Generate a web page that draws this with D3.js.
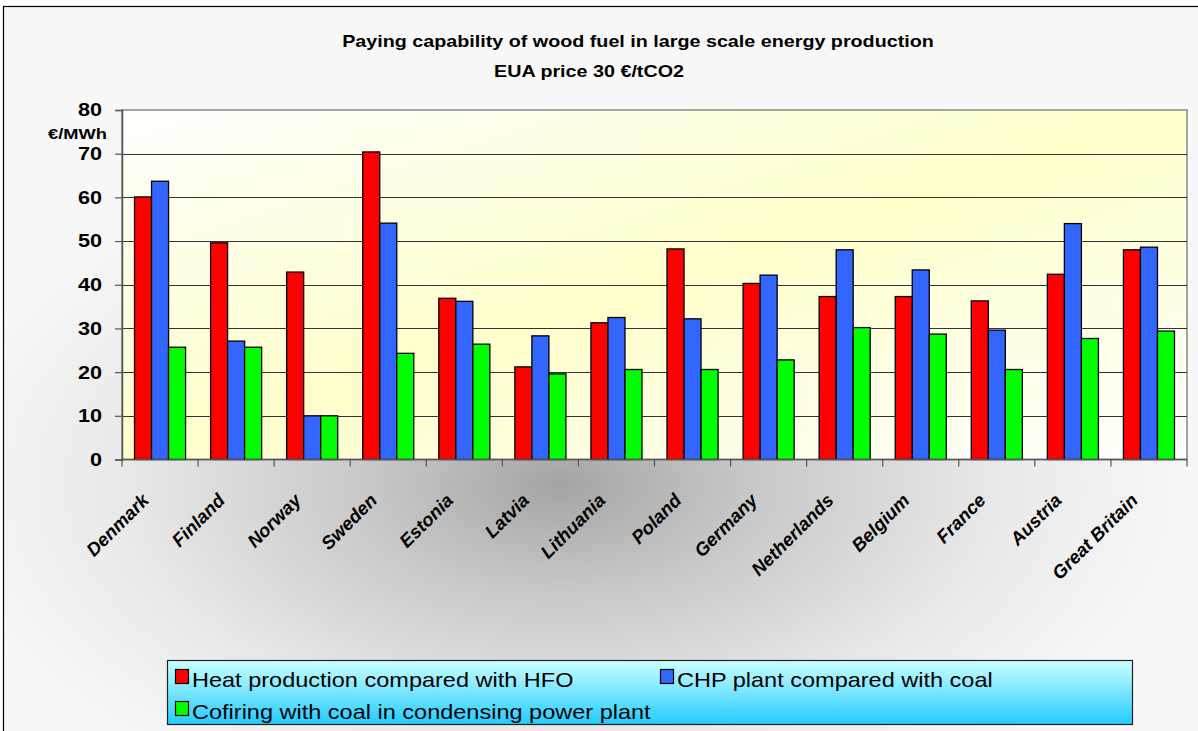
<!DOCTYPE html>
<html>
<head>
<meta charset="utf-8">
<script src="https://cdn.jsdelivr.net/npm/d3@7"></script>
<style>
  html, body { margin: 0; padding: 0; background: #fff; }
  svg { display: block; font-family: "Liberation Sans", Arial, sans-serif; }
</style>
</head>
<body>
<svg id="chart" width="1198" height="731"></svg>
<script>
// Countries along the x axis
const countries = ["Denmark", "Finland", "Norway", "Sweden", "Estonia", "Latvia", "Lithuania",
  "Poland", "Germany", "Netherlands", "Belgium", "France", "Austria", "Great Britain"];

// Paying capability, €/MWh
const heatHFO = [60.1, 49.6, 42.9, 70.4, 36.9, 21.2, 31.3, 48.2, 40.3, 37.3, 37.3, 36.3, 42.4, 48.0];
const chpCoal = [63.7, 27.1, 10.0, 54.1, 36.2, 28.3, 32.5, 32.2, 42.2, 48.0, 43.4, 29.6, 54.0, 48.6];
const cofiring = [25.7, 25.7, 10.0, 24.3, 26.4, 19.6, 20.6, 20.6, 22.8, 30.2, 28.7, 20.6, 27.7, 29.4];

const seriesNames = ["Heat production compared with HFO", "CHP plant compared with coal",
  "Cofiring with coal in condensing power plant"];
const seriesColors = ["#ff0000", "#3366ff", "#00ff00"];
const yTicks = [0, 10, 20, 30, 40, 50, 60, 70, 80];

const svg = d3.select("#chart");
const W = 1198, H = 731;
const plot = { left: 122, top: 110, right: 1187, bottom: 459.5 };
const SX = 1.17; // horizontal widening of the lettering

// Place a text element at (x, y), widened horizontally
function wideText(parent, x, y, sx) {
  return parent.append("text").attr("transform", `translate(${x},${y}) scale(${sx},1)`);
}

const defs = svg.append("defs");

// Grey shading of the chart background
const bg = defs.append("radialGradient").attr("id", "bgGrad")
  .attr("gradientUnits", "userSpaceOnUse")
  .attr("cx", 560).attr("cy", 485).attr("r", 640)
  .attr("gradientTransform", "translate(560,485) scale(1,0.55) translate(-560,-485)");
bg.append("stop").attr("offset", "0").attr("stop-color", "#a4a4a4");
bg.append("stop").attr("offset", "0.3").attr("stop-color", "#c8c8c8");
bg.append("stop").attr("offset", "0.7").attr("stop-color", "#eaeaea");
bg.append("stop").attr("offset", "1").attr("stop-color", "#f8f8f8");

// Pale yellow diagonal band of the plot area
const pg = defs.append("linearGradient").attr("id", "plotGrad")
  .attr("x1", "0").attr("y1", "0").attr("x2", "1").attr("y2", "1");
pg.append("stop").attr("offset", "0").attr("stop-color", "#ffffff");
pg.append("stop").attr("offset", "0.5").attr("stop-color", "#ffffcc");
pg.append("stop").attr("offset", "1").attr("stop-color", "#ffffff");

// Legend fill
const lg = defs.append("linearGradient").attr("id", "legGrad")
  .attr("x1", "0").attr("y1", "0").attr("x2", "0").attr("y2", "1");
lg.append("stop").attr("offset", "0").attr("stop-color", "#ccffff");
lg.append("stop").attr("offset", "1").attr("stop-color", "#22ccff");

svg.append("rect").attr("x", 0).attr("y", 0).attr("width", W).attr("height", H).attr("fill", "#fff");
svg.append("rect").attr("x", 3.5).attr("y", 6.5).attr("width", W + 10).attr("height", H + 10)
  .attr("fill", "url(#bgGrad)").attr("stroke", "#000").attr("stroke-width", 1.2);

// Scales
const x0 = d3.scaleBand().domain(countries).range([plot.left, plot.right]).paddingInner(0).paddingOuter(0);
const x1 = d3.scaleBand().domain([0, 1, 2]).range([0, x0.bandwidth()]).paddingOuter(0.735).paddingInner(0);
const y = d3.scaleLinear().domain([0, 80]).range([plot.bottom, plot.top]);

// Plot area
svg.append("rect").attr("x", plot.left).attr("y", plot.top)
  .attr("width", plot.right - plot.left).attr("height", plot.bottom - plot.top)
  .attr("fill", "url(#plotGrad)").attr("stroke", "#888").attr("stroke-width", 1.5);

// Gridlines
svg.append("g").selectAll("line").data(yTicks.filter(t => t > 0 && t < 80)).join("line")
  .attr("x1", plot.left).attr("x2", plot.right)
  .attr("y1", d => Math.round(y(d)) + 0.5).attr("y2", d => Math.round(y(d)) + 0.5)
  .attr("stroke", "#333").attr("stroke-width", 1.1);

// Bars
const data = countries.map((c, i) => ({ country: c, values: [heatHFO[i], chpCoal[i], cofiring[i]] }));
const groups = svg.append("g").selectAll("g").data(data).join("g")
  .attr("transform", d => `translate(${x0(d.country)},0)`);
groups.selectAll("rect").data(d => d.values.map((v, k) => ({ v, k }))).join("rect")
  .attr("x", d => x1(d.k)).attr("width", x1.bandwidth())
  .attr("y", d => y(d.v)).attr("height", d => y(0) - y(d.v))
  .attr("fill", d => seriesColors[d.k]).attr("stroke", "#000").attr("stroke-width", 1.3);

// Y axis
const yAxis = svg.append("g").attr("transform", `translate(${plot.left},0)`)
  .call(d3.axisLeft(y).tickValues(yTicks).tickSize(7).tickPadding(13));
yAxis.select(".domain").attr("stroke", "#555").attr("stroke-width", 1.5);
yAxis.selectAll(".tick line").attr("stroke", "#555").attr("stroke-width", 1.2);
yAxis.selectAll(".tick text")
  .attr("font-size", 18.5).attr("font-weight", "bold").attr("fill", "#000")
  .attr("font-family", "'Liberation Sans', Arial, sans-serif")
  .attr("x", -20 / SX).attr("transform", `scale(${SX},1)`);

wideText(svg, 107, 139, 1.22).attr("text-anchor", "end")
  .attr("font-size", 15).attr("font-weight", "bold").text("€/MWh");

// X axis with boundary ticks
const xAxisG = svg.append("g");
xAxisG.append("line").attr("x1", plot.left).attr("x2", plot.right)
  .attr("y1", plot.bottom).attr("y2", plot.bottom).attr("stroke", "#555").attr("stroke-width", 1.5);
const boundaries = countries.map(c => x0(c)).concat([x0.range()[1]]);
xAxisG.selectAll("line.tk").data(boundaries).join("line").attr("class", "tk")
  .attr("x1", d => d).attr("x2", d => d).attr("y1", plot.bottom).attr("y2", plot.bottom + 7)
  .attr("stroke", "#555").attr("stroke-width", 1.2);
xAxisG.selectAll("text").data(countries).join("text")
  .attr("transform", d => `translate(${x0(d) + x0.bandwidth() / 2 - 10},${plot.bottom + 42}) rotate(-45)`)
  .attr("text-anchor", "end").attr("font-size", 18.5).attr("font-weight", "bold").attr("font-style", "italic")
  .text(d => d);

// Titles
wideText(svg, 638, 47, 1.16).attr("text-anchor", "middle")
  .attr("font-size", 17).attr("font-weight", "bold")
  .text("Paying capability of wood fuel in large scale energy production");
wideText(svg, 589, 77, 1.16).attr("text-anchor", "middle")
  .attr("font-size", 17).attr("font-weight", "bold").text("EUA price 30 €/tCO2");

// Legend
const leg = svg.append("g");
leg.append("rect").attr("x", 167.5).attr("y", 660.5).attr("width", 965).attr("height", 64)
  .attr("fill", "url(#legGrad)").attr("stroke", "#222").attr("stroke-width", 1.2);
const legPos = [[175, 687], [660, 687], [175, 719]];
seriesNames.forEach((name, k) => {
  const [lx, ly] = legPos[k];
  leg.append("rect").attr("x", lx + 0.5).attr("y", ly - 17.5).attr("width", 13).attr("height", 14)
    .attr("fill", seriesColors[k]).attr("stroke", "#000").attr("stroke-width", 1.2);
  wideText(leg, lx + 17, ly, 1.12).attr("font-size", 21).text(name);
});
</script>
</body>
</html>
